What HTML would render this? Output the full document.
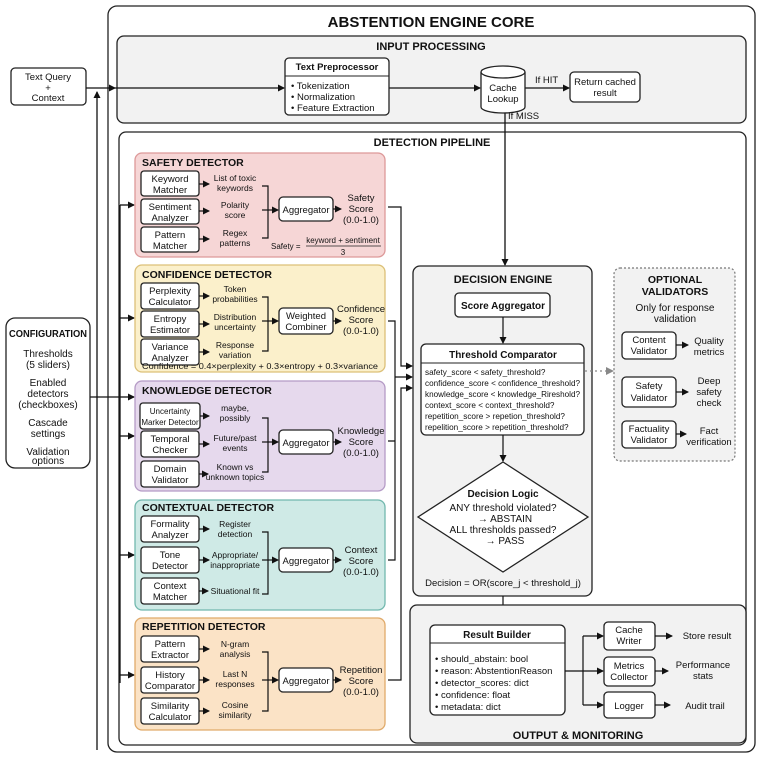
<!DOCTYPE html>
<html><head><meta charset="utf-8"><style>
html,body{margin:0;padding:0;background:#fff;}
svg{display:block;font-family:"Liberation Sans",sans-serif;}
text{fill:#111;}
.b{font-weight:bold;}
</style></head><body>
<svg width="763" height="759" viewBox="0 0 763 759" xmlns="http://www.w3.org/2000/svg">
<defs>
<marker id="a" markerWidth="7" markerHeight="7" refX="6" refY="3.5" orient="auto" markerUnits="userSpaceOnUse"><path d="M0,0 L7,3.5 L0,7 z" fill="#111"/></marker>
<marker id="g" markerWidth="8" markerHeight="8" refX="7" refY="4" orient="auto" markerUnits="userSpaceOnUse"><path d="M0,0 L8,4 L0,8 z" fill="#888"/></marker>
</defs>
<g stroke="#222" stroke-width="1.3" fill="none">
<rect x="108" y="6" width="647" height="746" rx="9" fill="#fff"/>
<rect x="117" y="36" width="629" height="87" rx="7" fill="#f2f2f2"/>
<rect x="119" y="132" width="627" height="613" rx="7" fill="#fff"/>
</g>
<text x="431" y="27" font-size="15" class="b" text-anchor="middle">ABSTENTION ENGINE CORE</text>
<text x="431" y="50" font-size="11" class="b" text-anchor="middle">INPUT PROCESSING</text>
<text x="432" y="146" font-size="11" class="b" text-anchor="middle">DETECTION PIPELINE</text>

<rect x="11" y="68" width="75" height="37" rx="4" fill="#fff" stroke="#222" stroke-width="1.3"/>
<text font-size="9.5" text-anchor="middle"><tspan x="48" y="80">Text Query</tspan><tspan x="48" y="91">+</tspan><tspan x="48" y="101">Context</tspan></text>
<g stroke="#111" stroke-width="1.3" fill="none">
<line x1="86" y1="88" x2="115" y2="88" marker-end="url(#a)"/>
<line x1="97" y1="750" x2="97" y2="92" marker-end="url(#a)"/>
<line x1="115" y1="88" x2="284" y2="88" marker-end="url(#a)"/>
<line x1="389" y1="88" x2="480" y2="88" marker-end="url(#a)"/>
<line x1="525" y1="88" x2="569" y2="88" marker-end="url(#a)"/>
<line x1="505" y1="113" x2="505" y2="265" marker-end="url(#a)"/>
<line x1="90" y1="397" x2="120" y2="397"/>
<line x1="120" y1="205" x2="120" y2="683"/>
<line x1="120" y1="205" x2="134" y2="205" marker-end="url(#a)"/>
<line x1="120" y1="318" x2="134" y2="318" marker-end="url(#a)"/>
<line x1="120" y1="397" x2="134" y2="397" marker-end="url(#a)"/>
<line x1="120" y1="436" x2="134" y2="436" marker-end="url(#a)"/>
<line x1="120" y1="555" x2="134" y2="555" marker-end="url(#a)"/>
<line x1="120" y1="675" x2="134" y2="675" marker-end="url(#a)"/>
</g>
<rect x="285" y="58" width="104" height="57" rx="4" fill="#fff" stroke="#222" stroke-width="1.3"/>
<line x1="285" y1="76" x2="389" y2="76" stroke="#222"/>
<text x="337" y="70" font-size="9.5" class="b" text-anchor="middle">Text Preprocessor</text>
<text font-size="9.5"><tspan x="291" y="89">• Tokenization</tspan><tspan x="291" y="100">• Normalization</tspan><tspan x="291" y="111">• Feature Extraction</tspan></text>
<path d="M481,72 L481,107 A22,6 0 0 0 525,107 L525,72" fill="#fff" stroke="#222" stroke-width="1.3"/>
<ellipse cx="503" cy="72" rx="22" ry="6" fill="#fff" stroke="#222" stroke-width="1.3"/>
<text font-size="9.5" text-anchor="middle"><tspan x="503" y="91">Cache</tspan><tspan x="503" y="102">Lookup</tspan></text>
<text x="535" y="83" font-size="9.5">If HIT</text>
<text x="508" y="119" font-size="9.5">If MISS</text>
<rect x="570" y="72" width="70" height="30" rx="4" fill="#fff" stroke="#222" stroke-width="1.3"/>
<text font-size="9.5" text-anchor="middle"><tspan x="605" y="85">Return cached</tspan><tspan x="605" y="96">result</tspan></text>

<rect x="6" y="318" width="84" height="150" rx="9" fill="#fff" stroke="#222" stroke-width="1.3"/>
<text x="48" y="337" font-size="10" class="b" text-anchor="middle" textLength="78" lengthAdjust="spacingAndGlyphs">CONFIGURATION</text>
<text font-size="10" text-anchor="middle"><tspan x="48" y="357">Thresholds</tspan><tspan x="48" y="368">(5 sliders)</tspan><tspan x="48" y="386">Enabled</tspan><tspan x="48" y="397">detectors</tspan><tspan x="48" y="408">(checkboxes)</tspan><tspan x="48" y="426">Cascade</tspan><tspan x="48" y="437">settings</tspan><tspan x="48" y="455">Validation</tspan><tspan x="48" y="466" dy="-2">options</tspan></text>

<g stroke-width="1.3">
<rect x="135" y="153" width="250" height="104" rx="7" fill="#f6d6d6" stroke="#d99"/>
<rect x="135" y="265" width="250" height="107" rx="7" fill="#fbf0cb" stroke="#dcc078"/>
<rect x="135" y="381" width="250" height="110" rx="7" fill="#e6d9ed" stroke="#b59bc6"/>
<rect x="135" y="500" width="250" height="110" rx="7" fill="#cfeae6" stroke="#72b8ae"/>
<rect x="135" y="618" width="250" height="112" rx="7" fill="#fbe3c6" stroke="#e0aa6a"/>
</g>
<g font-size="10.5" class="b">
<text x="142" y="166">SAFETY DETECTOR</text>
<text x="142" y="278">CONFIDENCE DETECTOR</text>
<text x="142" y="394">KNOWLEDGE DETECTOR</text>
<text x="142" y="511">CONTEXTUAL DETECTOR</text>
<text x="142" y="630">REPETITION DETECTOR</text>
</g>
<g fill="#fff" stroke="#222" stroke-width="1.3">
<rect x="141" y="171" width="58" height="25" rx="3"/><rect x="141" y="199" width="58" height="25" rx="3"/><rect x="141" y="227" width="58" height="25" rx="3"/>
<rect x="141" y="283" width="58" height="26" rx="3"/><rect x="141" y="311" width="58" height="26" rx="3"/><rect x="141" y="339" width="58" height="26" rx="3"/>
<rect x="140" y="403" width="60" height="26" rx="3"/><rect x="141" y="431" width="58" height="26" rx="3"/><rect x="141" y="461" width="58" height="26" rx="3"/>
<rect x="141" y="516" width="58" height="26" rx="3"/><rect x="141" y="547" width="58" height="26" rx="3"/><rect x="141" y="578" width="58" height="26" rx="3"/>
<rect x="141" y="636" width="58" height="26" rx="3"/><rect x="141" y="667" width="58" height="26" rx="3"/><rect x="141" y="698" width="58" height="26" rx="3"/>
<rect x="279" y="197" width="54" height="24" rx="4"/>
<rect x="279" y="308" width="54" height="26" rx="4"/>
<rect x="279" y="430" width="54" height="24" rx="4"/>
<rect x="279" y="548" width="54" height="24" rx="4"/>
<rect x="279" y="668" width="54" height="24" rx="4"/>
</g>
<g font-size="9.5" text-anchor="middle">
<text x="170" y="182">Keyword</text><text x="170" y="193">Matcher</text>
<text x="170" y="210">Sentiment</text><text x="170" y="221">Analyzer</text>
<text x="170" y="238">Pattern</text><text x="170" y="249">Matcher</text>
<text x="170" y="294">Perplexity</text><text x="170" y="305">Calculator</text>
<text x="170" y="322">Entropy</text><text x="170" y="333">Estimator</text>
<text x="170" y="350">Variance</text><text x="170" y="361">Analyzer</text>
<text x="170" y="414" font-size="8">Uncertainty</text><text x="170" y="425" font-size="8">Marker Detector</text>
<text x="170" y="442">Temporal</text><text x="170" y="453">Checker</text>
<text x="170" y="472">Domain</text><text x="170" y="483">Validator</text>
<text x="170" y="527">Formality</text><text x="170" y="538">Analyzer</text>
<text x="170" y="558">Tone</text><text x="170" y="569">Detector</text>
<text x="170" y="589">Context</text><text x="170" y="600">Matcher</text>
<text x="170" y="647">Pattern</text><text x="170" y="658">Extractor</text>
<text x="170" y="678">History</text><text x="170" y="689">Comparator</text>
<text x="170" y="709">Similarity</text><text x="170" y="720">Calculator</text>
<text x="306" y="213">Aggregator</text>
<text x="306" y="319">Weighted</text><text x="306" y="330">Combiner</text>
<text x="306" y="446">Aggregator</text>
<text x="306" y="564">Aggregator</text>
<text x="306" y="684">Aggregator</text>
</g>
<g font-size="8.5" text-anchor="middle">
<text x="235" y="181">List of toxic</text><text x="235" y="191">keywords</text>
<text x="235" y="208">Polarity</text><text x="235" y="218">score</text>
<text x="235" y="236">Regex</text><text x="235" y="246">patterns</text>
<text x="235" y="292">Token</text><text x="235" y="302">probabilities</text>
<text x="235" y="320">Distribution</text><text x="235" y="330">uncertainty</text>
<text x="235" y="348">Response</text><text x="235" y="358">variation</text>
<text x="235" y="411">maybe,</text><text x="235" y="421">possibly</text>
<text x="235" y="441">Future/past</text><text x="235" y="451">events</text>
<text x="235" y="470">Known vs</text><text x="235" y="480">unknown topics</text>
<text x="235" y="527">Register</text><text x="235" y="537">detection</text>
<text x="235" y="558">Appropriate/</text><text x="235" y="568">inappropriate</text>
<text x="235" y="594">Situational fit</text>
<text x="235" y="647">N-gram</text><text x="235" y="657">analysis</text>
<text x="235" y="677">Last N</text><text x="235" y="687">responses</text>
<text x="235" y="708">Cosine</text><text x="235" y="718">similarity</text>
</g>
<g font-size="9.5" text-anchor="middle">
<text x="361" y="201">Safety</text><text x="361" y="212">Score</text><text x="361" y="223">(0.0-1.0)</text>
<text x="361" y="312">Confidence</text><text x="361" y="323">Score</text><text x="361" y="334">(0.0-1.0)</text>
<text x="361" y="434">Knowledge</text><text x="361" y="445">Score</text><text x="361" y="456">(0.0-1.0)</text>
<text x="361" y="553">Context</text><text x="361" y="564">Score</text><text x="361" y="575">(0.0-1.0)</text>
<text x="361" y="673">Repetition</text><text x="361" y="684">Score</text><text x="361" y="695">(0.0-1.0)</text>
</g>
<text x="271" y="249" font-size="8">Safety =</text>
<text x="343" y="243" font-size="8" text-anchor="middle">keyword + sentiment</text>
<line x1="306" y1="246" x2="381" y2="246" stroke="#222" stroke-width="0.8"/>
<text x="343" y="255" font-size="8" text-anchor="middle">3</text>
<text x="260" y="369" font-size="8" text-anchor="middle" textLength="236" lengthAdjust="spacingAndGlyphs">Confidence = 0.4×perplexity + 0.3×entropy + 0.3×variance</text>

<g stroke="#111" stroke-width="1.2" fill="none" marker-end="url(#a)">
<line x1="199" y1="184" x2="209" y2="184"/><line x1="199" y1="211" x2="209" y2="211"/><line x1="199" y1="239" x2="209" y2="239"/>
<line x1="199" y1="296" x2="209" y2="296"/><line x1="199" y1="324" x2="209" y2="324"/><line x1="199" y1="352" x2="209" y2="352"/>
<line x1="200" y1="416" x2="209" y2="416"/><line x1="199" y1="444" x2="209" y2="444"/><line x1="199" y1="474" x2="208" y2="474"/>
<line x1="199" y1="529" x2="209" y2="529"/><line x1="199" y1="560" x2="209" y2="560"/><line x1="199" y1="591" x2="208" y2="591"/>
<line x1="199" y1="649" x2="209" y2="649"/><line x1="199" y1="680" x2="209" y2="680"/><line x1="199" y1="711" x2="209" y2="711"/>
<line x1="262" y1="210" x2="278" y2="210"/><line x1="262" y1="321" x2="278" y2="321"/><line x1="262" y1="442" x2="278" y2="442"/><line x1="262" y1="560" x2="278" y2="560"/><line x1="262" y1="680" x2="278" y2="680"/>
<line x1="333" y1="209" x2="341" y2="209"/><line x1="333" y1="321" x2="341" y2="321"/><line x1="333" y1="442" x2="341" y2="442"/><line x1="333" y1="560" x2="341" y2="560"/><line x1="333" y1="680" x2="341" y2="680"/>
<path d="M388,207h13v159h11"/>
<line x1="395" y1="377" x2="412" y2="377"/>
<path d="M388,680h13v-292h11"/>
<line x1="413" y1="305" x2="454" y2="305"/>
</g>
<g stroke="#111" stroke-width="1.2" fill="none">
<path d="M262,186h6v52h-6M262,297h6v54h-6M262,418h6v54h-6M262,532h6v62h-6M262,652h6v59h-6"/>
<path d="M388,321h7v239h-7M388,441h7"/>
</g>

<rect x="413" y="266" width="179" height="330" rx="7" fill="#f2f2f2" stroke="#222" stroke-width="1.3"/>
<text x="503" y="283" font-size="11" class="b" text-anchor="middle">DECISION ENGINE</text>
<rect x="455" y="293" width="95" height="24" rx="4" fill="#fff" stroke="#222" stroke-width="1.3"/>
<text x="503" y="309" font-size="10" class="b" text-anchor="middle">Score Aggregator</text>
<line x1="503" y1="317" x2="503" y2="343" stroke="#111" stroke-width="1.2" marker-end="url(#a)"/>
<rect x="421" y="344" width="163" height="91" rx="5" fill="#fff" stroke="#222" stroke-width="1.3"/>
<line x1="421" y1="363" x2="584" y2="363" stroke="#222"/>
<text x="503" y="358" font-size="10" class="b" text-anchor="middle">Threshold Comparator</text>
<g font-size="8.2">
<text x="425" y="375">safety_score &lt; safety_threshold?</text>
<text x="425" y="386" textLength="155" lengthAdjust="spacingAndGlyphs">confidence_score &lt; confidence_threshold?</text>
<text x="425" y="397" textLength="155" lengthAdjust="spacingAndGlyphs">knowledge_score &lt; knowledge_Rireshold?</text>
<text x="425" y="408">context_score &lt; context_threshold?</text>
<text x="425" y="419">repetition_score &gt; repetion_threshold?</text>
<text x="425" y="430">repelition_score &gt; repetition_threshold?</text>
</g>
<line x1="503" y1="435" x2="503" y2="461" stroke="#111" stroke-width="1.2" marker-end="url(#a)"/>
<polygon points="503,462 588,517 503,572 418,517" fill="#fff" stroke="#222" stroke-width="1.3"/>
<text x="503" y="497" font-size="10" class="b" text-anchor="middle">Decision Logic</text>
<text font-size="10" text-anchor="middle"><tspan x="503" y="511">ANY threshold violated?</tspan><tspan x="505" y="522">→ ABSTAIN</tspan><tspan x="503" y="533">ALL thresholds passed?</tspan><tspan x="505" y="544">→ PASS</tspan></text>
<text x="503" y="586" font-size="9.5" text-anchor="middle">Decision = OR(score_j &lt; threshold_j)</text>
<line x1="503" y1="596" x2="503" y2="624" stroke="#111" stroke-width="1.2" marker-end="url(#a)"/>
<line x1="585" y1="371" x2="613" y2="371" stroke="#888" stroke-width="1.2" stroke-dasharray="2,3" marker-end="url(#g)"/>

<rect x="614" y="268" width="121" height="193" rx="6" fill="#f2f2f2" stroke="#777" stroke-width="1.2" stroke-dasharray="2,2"/>
<text x="675" y="283" font-size="10.5" class="b" text-anchor="middle">OPTIONAL</text>
<text x="675" y="295" font-size="10.5" class="b" text-anchor="middle">VALIDATORS</text>
<text x="675" y="311" font-size="10" text-anchor="middle">Only for response</text>
<text x="675" y="322" font-size="10" text-anchor="middle">validation</text>
<g fill="#fff" stroke="#222" stroke-width="1.3">
<rect x="622" y="332" width="54" height="27" rx="4"/><rect x="622" y="377" width="54" height="30" rx="4"/><rect x="622" y="421" width="54" height="27" rx="4"/>
</g>
<g font-size="9.5" text-anchor="middle">
<text x="649" y="343">Content</text><text x="649" y="354">Validator</text>
<text x="649" y="389">Safety</text><text x="649" y="401">Validator</text>
<text x="649" y="432">Factuality</text><text x="649" y="443">Validator</text>
<text x="709" y="344">Quality</text><text x="709" y="355">metrics</text>
<text x="709" y="384">Deep</text><text x="709" y="395">safety</text><text x="709" y="406">check</text>
<text x="709" y="434">Fact</text><text x="709" y="445">verification</text>
</g>
<g stroke="#111" stroke-width="1.2" marker-end="url(#a)">
<line x1="676" y1="345" x2="688" y2="345"/><line x1="676" y1="392" x2="688" y2="392"/><line x1="676" y1="434" x2="686" y2="434"/>
</g>

<rect x="410" y="605" width="336" height="138" rx="7" fill="#f2f2f2" stroke="#222" stroke-width="1.3"/>
<text x="578" y="739" font-size="11" class="b" text-anchor="middle">OUTPUT &amp; MONITORING</text>
<rect x="430" y="625" width="135" height="90" rx="5" fill="#fff" stroke="#222" stroke-width="1.3"/>
<line x1="430" y1="643" x2="565" y2="643" stroke="#222"/>
<text x="497" y="638" font-size="10" class="b" text-anchor="middle">Result Builder</text>
<text font-size="9.5"><tspan x="435" y="662">• should_abstain: bool</tspan><tspan x="435" y="674">• reason: AbstentionReason</tspan><tspan x="435" y="686">• detector_scores: dict</tspan><tspan x="435" y="698">• confidence: float</tspan><tspan x="435" y="710">• metadata: dict</tspan></text>
<g fill="#fff" stroke="#222" stroke-width="1.3">
<rect x="604" y="622" width="51" height="28" rx="4"/><rect x="604" y="657" width="51" height="29" rx="4"/><rect x="604" y="692" width="51" height="26" rx="4"/>
</g>
<g font-size="9.5" text-anchor="middle">
<text x="629" y="633">Cache</text><text x="629" y="644">Writer</text>
<text x="629" y="669">Metrics</text><text x="629" y="680">Collector</text>
<text x="629" y="709">Logger</text>
<text x="707" y="639">Store result</text>
<text x="703" y="668">Performance</text><text x="703" y="679">stats</text>
<text x="705" y="709">Audit trail</text>
</g>
<g stroke="#111" stroke-width="1.2" fill="none">
<path d="M565,671h18M583,636v69"/>
</g>
<g stroke="#111" stroke-width="1.2" fill="none" marker-end="url(#a)">
<line x1="583" y1="636" x2="603" y2="636"/><line x1="583" y1="671" x2="603" y2="671"/><line x1="583" y1="705" x2="603" y2="705"/>
<line x1="655" y1="636" x2="672" y2="636"/><line x1="655" y1="671" x2="668" y2="671"/><line x1="655" y1="705" x2="670" y2="705"/>
</g>
</svg>
</body></html>
